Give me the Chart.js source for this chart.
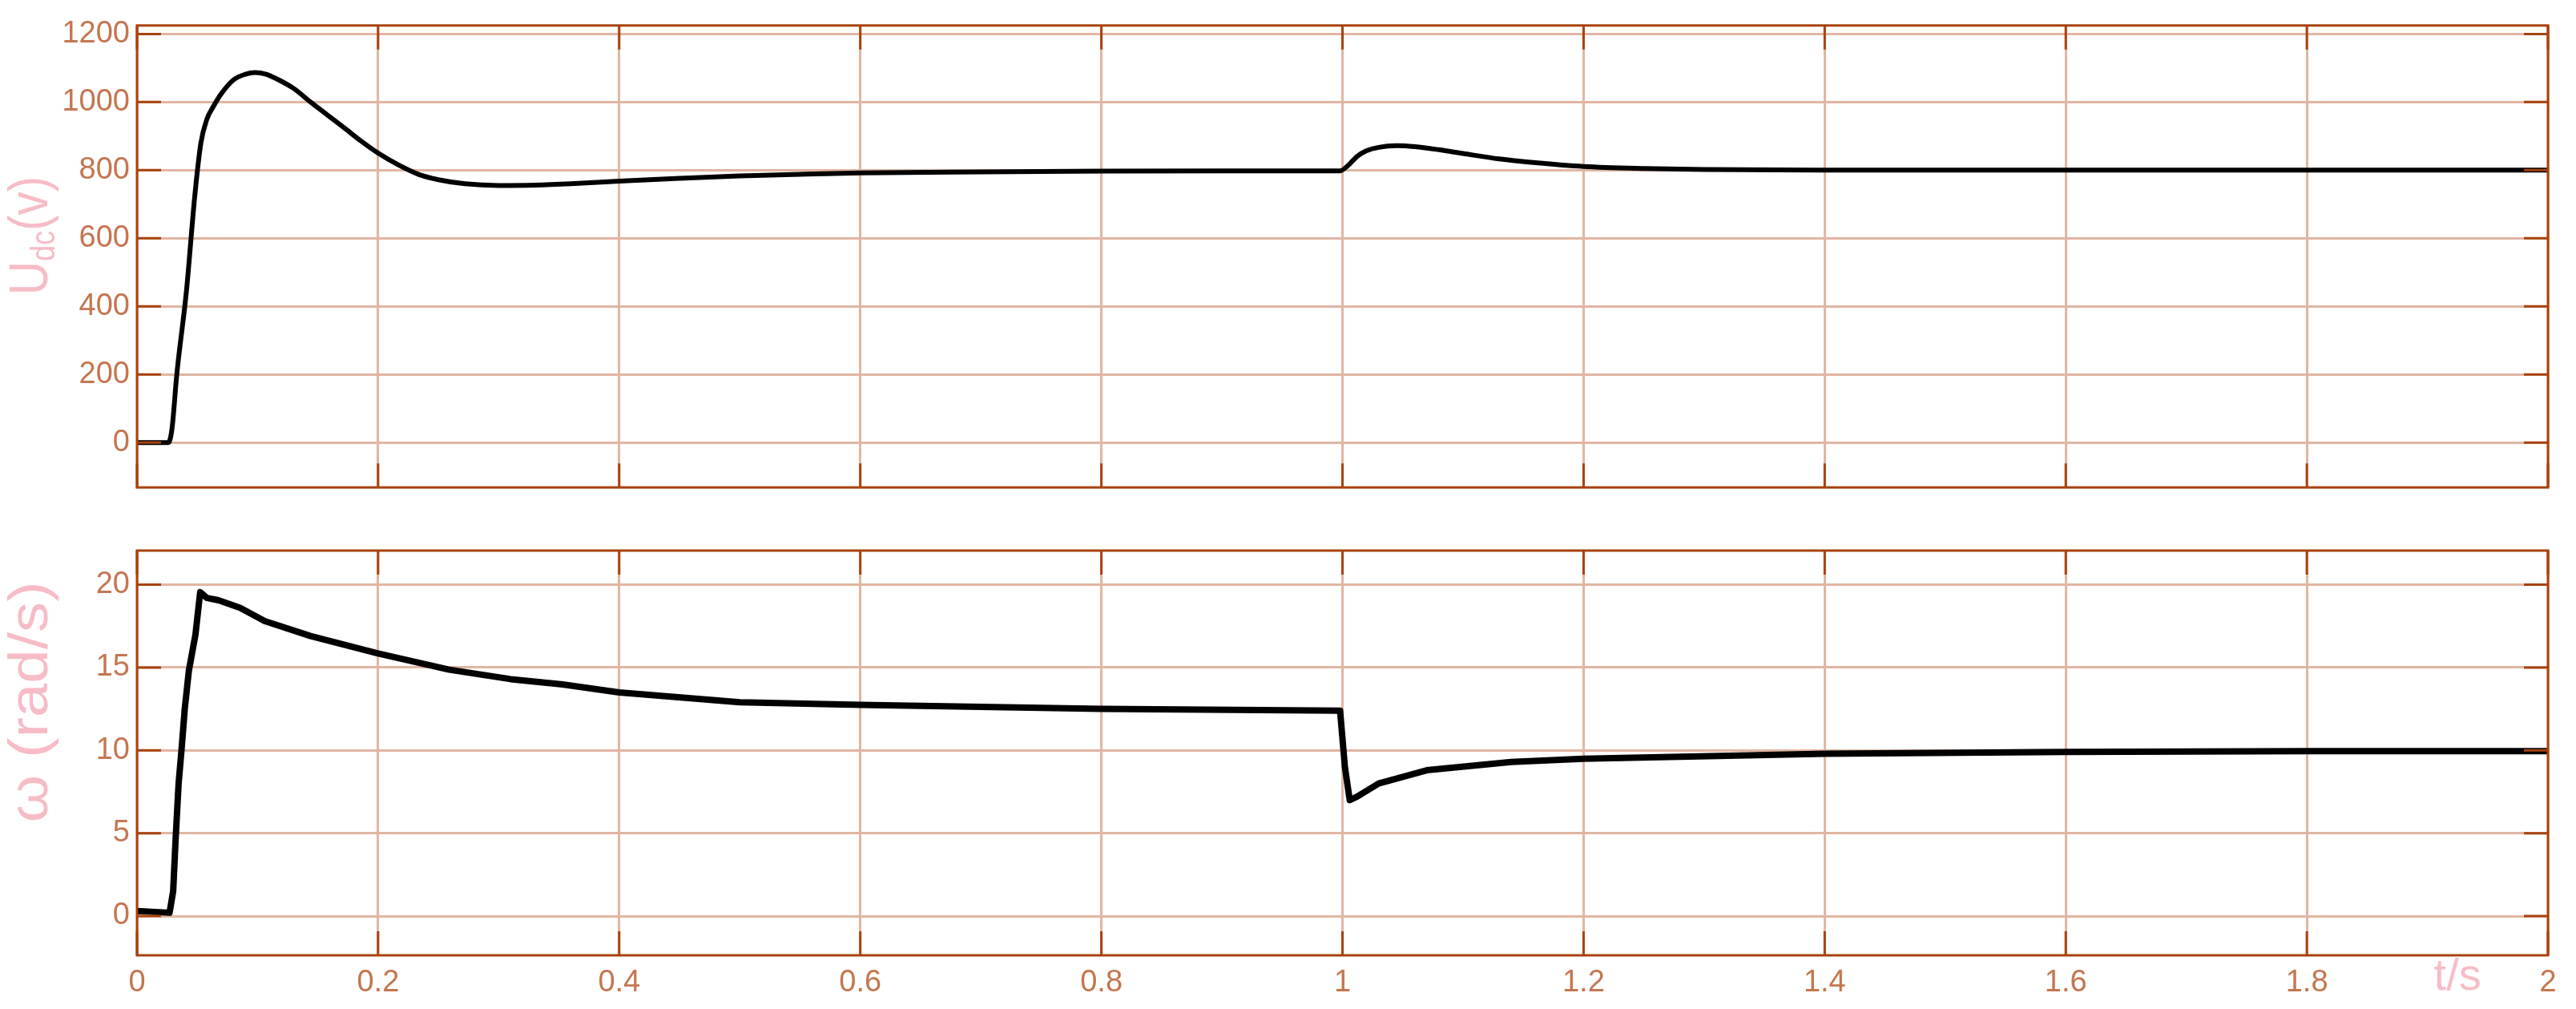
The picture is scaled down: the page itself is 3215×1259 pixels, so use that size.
<!DOCTYPE html>
<html>
<head>
<meta charset="utf-8">
<script src="https://cdn.jsdelivr.net/npm/chart.js@4/dist/chart.umd.min.js"></script>
<style>
    body { margin: 0; background: #fff; }
    canvas { position: absolute; left: 0; }
    #topChart { top: 0; }
    #bottomChart { top: 640px; }
</style>
</head>
<body>
<canvas id="topChart" width="3215" height="640"></canvas>
<canvas id="bottomChart" width="3215" height="619"></canvas>
<script>
// Dados
const tTop = [0, 0.026, 0.029, 0.033, 0.041, 0.048, 0.053, 0.058, 0.063, 0.070, 0.080, 0.090, 0.098, 0.107, 0.116, 0.130, 0.144, 0.158, 0.172, 0.186, 0.2, 0.217, 0.234, 0.25, 0.272, 0.3, 0.33, 0.36, 0.4, 0.45, 0.5, 0.55, 0.6, 0.7, 0.8, 0.9, 0.998, 1.005, 1.012, 1.02, 1.03, 1.045, 1.06, 1.08, 1.1, 1.13, 1.16, 1.2, 1.25, 1.3, 1.4, 1.6, 1.8, 2.0];
const uTop = [0, 0, 40, 200, 445, 727, 880, 950, 985, 1025, 1065, 1082, 1087, 1082, 1068, 1040, 1000, 962, 924, 885, 850, 815, 787, 772, 760, 755, 756, 760, 768, 776, 783, 788, 792, 795, 797, 798, 798, 815, 840, 857, 867, 872, 869, 860, 849, 833, 822, 811, 805, 802, 800, 800, 800, 800];

const tBottom = [0, 0.027, 0.030, 0.032, 0.0345, 0.037, 0.0396, 0.043, 0.0485, 0.0524, 0.058, 0.0677, 0.0856, 0.106, 0.144, 0.2, 0.259, 0.31, 0.353, 0.4, 0.5, 0.6, 0.8, 0.998, 1.002, 1.006, 1.012, 1.03, 1.07, 1.14, 1.2, 1.4, 1.6, 1.8, 2.0];
const wBottom = [0.3, 0.2, 1.5, 4.6, 8.0, 10.1, 12.5, 14.8, 17.0, 19.55, 19.2, 19.06, 18.6, 17.8, 16.9, 15.85, 14.87, 14.3, 13.98, 13.5, 12.9, 12.75, 12.5, 12.4, 9.0, 7.0, 7.2, 8.0, 8.8, 9.3, 9.5, 9.8, 9.9, 9.95, 9.95];

const xTicks = [0, 0.2, 0.4, 0.6, 0.8, 1, 1.2, 1.4, 1.6, 1.8, 2];
const xTickLabels = ['0', '0.2', '0.4', '0.6', '0.8', '1', '1.2', '1.4', '1.6', '1.8', '2'];
const uTicks = [0, 200, 400, 600, 800, 1000, 1200];
const wTicks = [0, 5, 10, 15, 20];

const axisColor = '#a8420e';
const gridColor = '#e0b6a2';
const tickColor = '#c47650';
const titleColor = '#f7bcc6';
const fontFamily = '"Liberation Sans", Arial, sans-serif';

// Moldura e marcas internas (estilo MATLAB)
const framePlugin = {
    id: 'frame',
    afterDatasetsDraw(chart) {
        const { ctx, chartArea: a, scales } = chart;
        ctx.save();
        ctx.strokeStyle = axisColor;
        ctx.lineWidth = 3;
        ctx.strokeRect(a.left, a.top, a.right - a.left, a.bottom - a.top);
        ctx.beginPath();
        scales.y.ticks.forEach(t => {
            const y = scales.y.getPixelForValue(t.value);
            ctx.moveTo(a.left, y); ctx.lineTo(a.left + 30, y);
            ctx.moveTo(a.right, y); ctx.lineTo(a.right - 30, y);
        });
        scales.x.ticks.forEach(t => {
            const x = scales.x.getPixelForValue(t.value);
            ctx.moveTo(x, a.top); ctx.lineTo(x, a.top + 30);
            ctx.moveTo(x, a.bottom); ctx.lineTo(x, a.bottom - 30);
        });
        ctx.stroke();
        ctx.restore();
    },
    afterDraw(chart, args, opts) {
        const { ctx } = chart;
        // Título do eixo y (com subscrito)
        ctx.save();
        ctx.fillStyle = titleColor;
        ctx.translate(opts.titleX, opts.titleY);
        ctx.rotate(-Math.PI / 2);
        ctx.scale(opts.stretch, 1);
        ctx.textBaseline = 'middle';
        const parts = opts.title;
        let total = 0;
        parts.forEach(p => {
            ctx.font = (p.sub ? 42 : 68) + 'px ' + fontFamily;
            total += ctx.measureText(p.text).width;
        });
        let x = -total / 2;
        parts.forEach(p => {
            ctx.font = (p.sub ? 42 : 68) + 'px ' + fontFamily;
            ctx.fillText(p.text, x, p.sub ? 16 : 0);
            x += ctx.measureText(p.text).width;
        });
        ctx.restore();
        if (opts.xTitle) {
            ctx.save();
            ctx.fillStyle = titleColor;
            ctx.font = '56px ' + fontFamily;
            ctx.textAlign = 'center';
            ctx.textBaseline = 'middle';
            ctx.fillText(opts.xTitle, chart.scales.x.getPixelForValue(1.925), opts.xTitleY);
            ctx.restore();
        }
    }
};

function makePanel(canvasId, t, v, yMin, yMax, yTicks, cfg) {
    const ctx = document.getElementById(canvasId).getContext('2d');
    return new Chart(ctx, {
        type: 'line',
        data: {
            datasets: [{
                data: t.map((x, i) => ({ x: x, y: v[i] })),
                borderColor: '#000',
                borderWidth: cfg.lineWidth,
                pointRadius: 0,
                cubicInterpolationMode: cfg.smooth ? 'monotone' : 'default',
                tension: 0,
                borderJoinStyle: 'round'
            }]
        },
        options: {
            responsive: false,
            animation: false,
            devicePixelRatio: 1,
            layout: { padding: { left: 0, right: 35, top: cfg.padTop, bottom: 0 } },
            plugins: {
                legend: { display: false },
                tooltip: { enabled: false },
                frame: cfg.frame
            },
            scales: {
                x: {
                    type: 'linear',
                    min: 0,
                    max: 2,
                    afterBuildTicks: scale => { scale.ticks = xTicks.map(val => ({ value: val })); },
                    afterFit: scale => { scale.height = cfg.xHeight; },
                    grid: { color: gridColor, lineWidth: 3, drawTicks: false },
                    border: { display: false },
                    ticks: {
                        display: cfg.showX,
                        padding: 12,
                        color: tickColor,
                        font: { size: 38, family: fontFamily },
                        maxRotation: 0,
                        autoSkip: false,
                        callback: (val, i) => xTickLabels[i]
                    }
                },
                y: {
                    min: yMin,
                    max: yMax,
                    afterBuildTicks: scale => { scale.ticks = yTicks.map(val => ({ value: val })); },
                    afterFit: scale => { scale.width = 171; },
                    grid: { color: gridColor, lineWidth: 3, drawTicks: false },
                    border: { display: false },
                    ticks: {
                        padding: 9,
                        color: tickColor,
                        font: { size: 38, family: fontFamily },
                        callback: val => String(val)
                    }
                }
            }
        },
        plugins: [framePlugin]
    });
}

makePanel('topChart', tTop, uTop, -132, 1225, uTicks, {
    lineWidth: 6, padTop: 25, xHeight: 23, showX: false, smooth: true,
    frame: { titleX: 40, titleY: 294, stretch: 0.86, title: [{ text: 'U' }, { text: 'dc', sub: true }, { text: '(v)' }] }
});

makePanel('bottomChart', tBottom, wBottom, -2.37, 22.06, wTicks, {
    lineWidth: 8, padTop: 47, xHeight: 67, showX: true, smooth: false,
    frame: { titleX: 40, titleY: 236, stretch: 1.12, title: [{ text: 'ω (rad/s)' }], xTitle: 't/s', xTitleY: 580 }
});
</script>
</body>
</html>
